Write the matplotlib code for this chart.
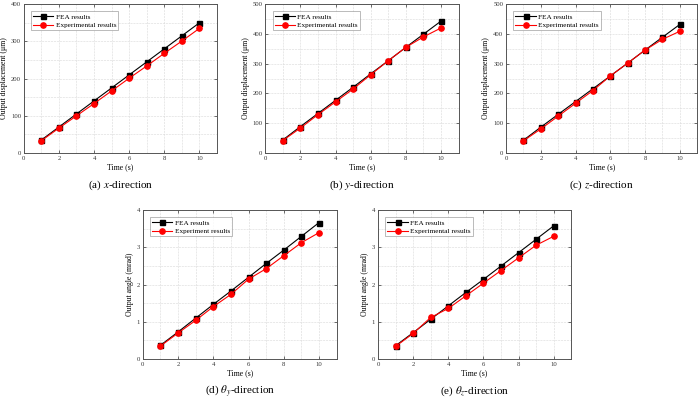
import matplotlib
matplotlib.use("Agg")
import matplotlib.pyplot as plt
from matplotlib.ticker import MultipleLocator

plt.rcParams['font.family'] = ['Liberation Serif', 'DejaVu Serif']
plt.rcParams['mathtext.fontset'] = 'stix'

time_s = [1, 2, 3, 4, 5, 6, 7, 8, 9, 10]

fea_x = [35, 70, 105, 140, 175, 210, 245, 280, 315, 350]
exp_x = [33, 67, 100, 133, 167, 201, 234, 268, 301, 335]
fea_y = [44, 89, 133, 177, 221, 266, 310, 355, 399, 443]
exp_y = [42, 84, 129, 172, 215, 263, 310, 355, 390, 420]
fea_z = [43, 87, 130, 173, 216, 259, 302, 346, 389, 432]
exp_z = [41, 81, 124, 167, 210, 259, 302, 346, 382, 409]
fea_ty = [0.37, 0.73, 1.10, 1.47, 1.83, 2.20, 2.57, 2.93, 3.30, 3.67]
exp_ty = [0.35, 0.70, 1.04, 1.41, 1.74, 2.15, 2.43, 2.78, 3.13, 3.40]
fea_tz = [0.36, 0.71, 1.07, 1.43, 1.79, 2.14, 2.50, 2.86, 3.22, 3.58]
exp_tz = [0.34, 0.69, 1.12, 1.36, 1.70, 2.04, 2.38, 2.72, 3.06, 3.30]

fig = plt.figure(figsize=(7.0, 3.99), dpi=100)

panels = [
    dict(rect=[0.034, 0.6165, 0.276, 0.373], fea=fea_x, exp=exp_x, ylim=400, ymaj=100, ymin=50,
         ylabel='Output displacement (μm)', exp_label='Experimental results',
         caption='(a) $x$-direction'),
    dict(rect=[0.379, 0.6165, 0.276, 0.373], fea=fea_y, exp=exp_y, ylim=500, ymaj=100, ymin=50,
         ylabel='Output displacement (μm)', exp_label='Experimental results',
         caption='(b) $y$-direction'),
    dict(rect=[0.723, 0.6165, 0.273, 0.373], fea=fea_z, exp=exp_z, ylim=500, ymaj=100, ymin=50,
         ylabel='Output displacement (μm)', exp_label='Experimental results',
         caption='(c) $z$-direction'),
    dict(rect=[0.204, 0.100, 0.277, 0.373], fea=fea_ty, exp=exp_ty, ylim=4, ymaj=1, ymin=0.5,
         ylabel='Output angle (mrad)', exp_label='Experiment results',
         caption=r'(d) $\theta_y$-direction'),
    dict(rect=[0.540, 0.100, 0.276, 0.373], fea=fea_tz, exp=exp_tz, ylim=4, ymaj=1, ymin=0.5,
         ylabel='Output angle (mrad)', exp_label='Experimental results',
         caption=r'(e) $\theta_z$-direction'),
]

for p in panels:
    ax = fig.add_axes(p['rect'])
    ax.plot(time_s, p['fea'], color='black', marker='s', markersize=3.6, linewidth=0.8,
            label='FEA results', zorder=3)
    ax.plot(time_s, p['exp'], color='red', marker='o', markersize=3.8, linewidth=0.8,
            label=p['exp_label'], zorder=4)
    ax.set_xlim(0, 11)
    ax.set_ylim(0, p['ylim'])
    ax.xaxis.set_major_locator(MultipleLocator(2))
    ax.xaxis.set_minor_locator(MultipleLocator(1))
    ax.yaxis.set_major_locator(MultipleLocator(p['ymaj']))
    ax.yaxis.set_minor_locator(MultipleLocator(p['ymin']))
    ax.grid(True, which='both', linestyle='--', linewidth=0.4, color='#d8d8d8', zorder=0)
    ax.set_axisbelow(True)
    ax.tick_params(which='both', direction='in', top=True, right=True, labelsize=4.8,
                   colors='#333333', width=0.5, pad=2)
    ax.tick_params(which='major', length=2.5)
    ax.tick_params(which='minor', length=0)
    for s in ax.spines.values():
        s.set_color('#555555')
        s.set_linewidth(0.7)
    ax.set_xlabel('Time (s)', fontsize=5.6, labelpad=2)
    ax.set_ylabel(p['ylabel'], fontsize=5.6, labelpad=2)
    leg = ax.legend(loc='upper left', fontsize=5.2, frameon=True, fancybox=False,
                    borderpad=0.3, handlelength=2.8, handletextpad=0.3, labelspacing=0.35,
                    borderaxespad=1.0)
    leg.get_frame().set_edgecolor('#888888')
    leg.get_frame().set_linewidth(0.5)
    x0, y0, w, h = p['rect']
    fig.text(x0 + w / 2, y0 - 0.08, p['caption'], ha='center', va='center', fontsize=8)

fig.savefig('out.png', dpi=100)
